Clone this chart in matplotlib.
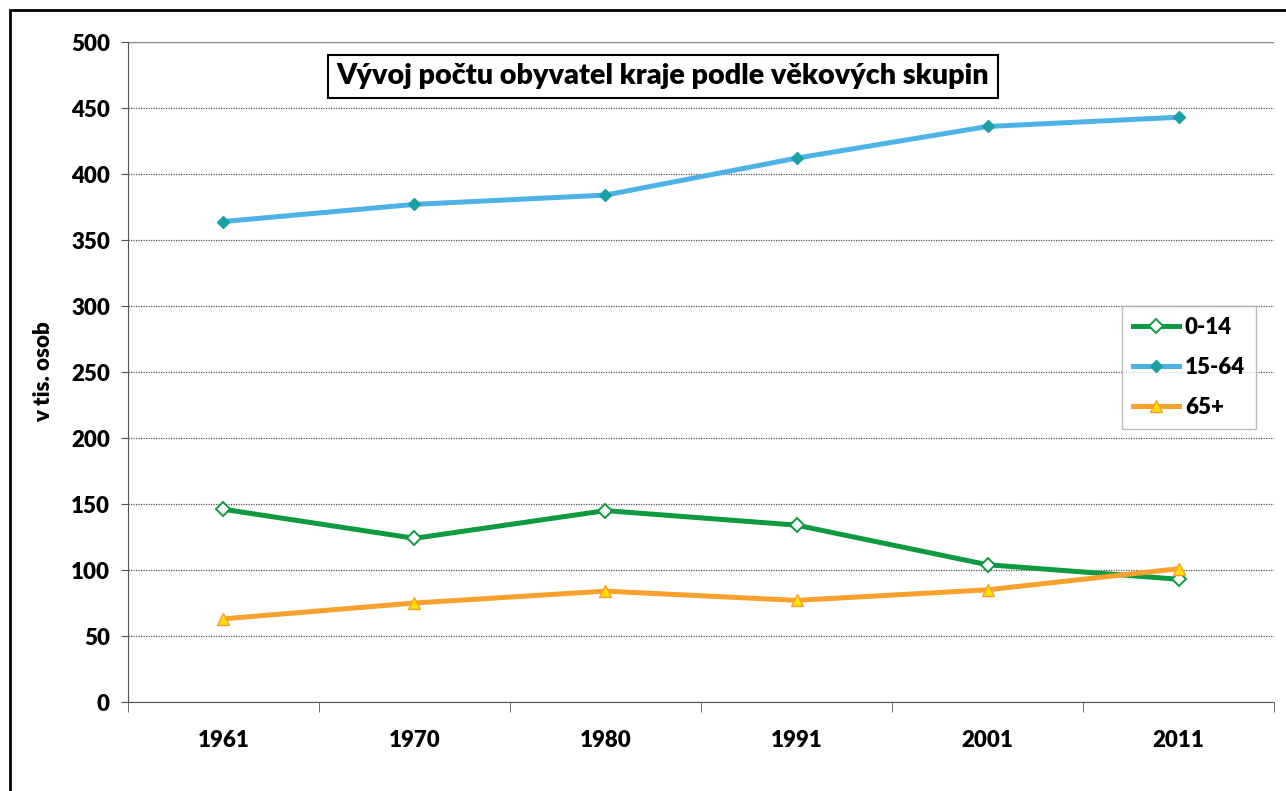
import matplotlib.pyplot as plt
from matplotlib.patches import Rectangle

years = ['1961', '1970', '1980', '1991', '2001', '2011']
age_0_14 = [146, 124, 145, 134, 104, 93]
age_15_64 = [364, 377, 384, 412, 436, 443]
age_65 = [63, 75, 84, 77, 85, 101]

plt.rcParams['font.family'] = ['Lato', 'DejaVu Sans']
plt.rcParams['font.weight'] = 'heavy'

fig = plt.figure(figsize=(12.86, 7.91), dpi=100)
ax = fig.add_axes([0.0995, 0.1125, 0.8912, 0.8344])

# outer frame (right and bottom edges fall outside the image)
fig.patches.append(Rectangle((0.008, -0.1), 1.2, 1.087, transform=fig.transFigure,
                             fill=False, edgecolor='black', linewidth=2))

x = range(len(years))
ax.plot(x, age_0_14, '-', color='#0e9a3e', lw=3.6, marker='D', ms=7,
        mfc='white', mec='#0e9a3e', mew=1.4, label='0-14')
ax.plot(x, age_15_64, '-', color='#4db3e6', lw=3.6, marker='D', ms=6.5,
        mfc='#1d9fa6', mec='#1d9fa6', label='15-64')
ax.plot(x, age_65, '-', color='#f8a12c', lw=3.6, marker='^', ms=9,
        mfc='#ffe000', mec='#f8a12c', mew=1, label='65+')

ax.set_xlim(-0.5, 5.5)
ax.set_ylim(0, 500)
ax.set_yticks(range(0, 501, 50))
ax.set_xticks(x)
ax.set_xticklabels(years)
ax.set_xticks([i - 0.5 for i in range(7)], minor=True)
ax.tick_params(axis='x', which='major', length=0, pad=20, labelsize=16)
ax.tick_params(axis='x', which='minor', length=7, direction='out', color='#555555')
ax.tick_params(axis='y', length=5, direction='out', labelsize=16, color='#555555', pad=8)
ax.grid(axis='y', linestyle=(0, (1, 1)), color='#555555', lw=0.9)
ax.axhline(500, color='#888888', lw=1)

for s in ['top', 'right']:
    ax.spines[s].set_visible(False)
for s in ['left', 'bottom']:
    ax.spines[s].set_color('#555555')

ax.set_ylabel('v tis. osob', fontsize=16, fontweight='heavy', labelpad=12)

ax.text(2.30, 474, 'Vývoj počtu obyvatel kraje podle věkových skupin',
        ha='center', va='center', fontsize=20.7, fontweight='heavy',
        bbox=dict(boxstyle='square,pad=0.3', facecolor='white', edgecolor='black', lw=1.5))

leg = ax.legend(loc='upper left', bbox_to_anchor=(0.867, 0.6), fontsize=16,
                frameon=True, fancybox=False, edgecolor='#aaaaaa', borderaxespad=0,
                handlelength=2.1, handletextpad=0.25, labelspacing=0.85, borderpad=0.5)
leg.get_frame().set_linewidth(1)

fig.savefig('out.png', dpi=100)
